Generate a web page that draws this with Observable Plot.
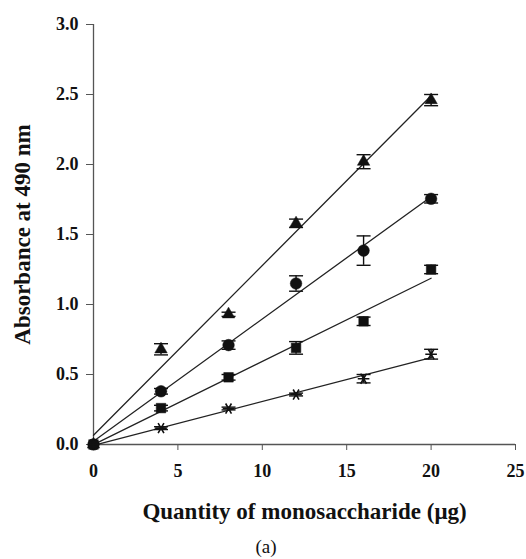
<!DOCTYPE html>
<html>
<head>
<meta charset="utf-8">
<script src="https://cdn.jsdelivr.net/npm/d3@7"></script>
<script src="https://cdn.jsdelivr.net/npm/@observablehq/plot@0.6"></script>
<style>
  html, body { margin: 0; padding: 0; background: #fff; }
  #wrap { position: relative; width: 526px; height: 559px; }
  #cap { position: absolute; top: 536px; left: 266px; transform: translateX(-50%);
         font-family: "Liberation Serif", "Times New Roman", serif; font-size: 19px; color: #111; }
</style>
</head>
<body>
<div id="wrap"><div id="chart"></div><div id="cap">(a)</div></div>
<script>
// Data
const quantity = [0, 4, 8, 12, 16, 20];
const triangleY   = [0, 0.68, 0.93, 1.58, 2.02, 2.46];
const triangleErr = [0, 0.04, 0.015, 0.03, 0.05, 0.04];
const circleY     = [0, 0.38, 0.71, 1.15, 1.385, 1.755];
const circleErr   = [0, 0.02, 0.03, 0.055, 0.105, 0.03];
const squareY     = [0, 0.26, 0.48, 0.69, 0.88, 1.25];
const squareErr   = [0, 0.02, 0.02, 0.045, 0.03, 0.03];
const starY       = [0, 0.117, 0.257, 0.357, 0.47, 0.645];
const starErr     = [0, 0.01, 0.01, 0.01, 0.03, 0.035];
const xTicks = [0, 5, 10, 15, 20, 25];
const yTicks = [0, 0.5, 1.0, 1.5, 2.0, 2.5, 3.0];
const xLabel = "Quantity of monosaccharide (\u03bcg)";
const yLabel = "Absorbance at 490 nm";

const seriesDefs = [
  {name: "triangle", ys: triangleY, errs: triangleErr, symbol: "triangle", r: 4.6, rotate: 0},
  {name: "circle", ys: circleY, errs: circleErr, symbol: "circle", r: 5.8, rotate: 0},
  {name: "square", ys: squareY, errs: squareErr, symbol: "square", r: 5.4, rotate: 0},
  {name: "star", ys: starY, errs: starErr, symbol: "asterisk", r: 5.5, rotate: 90}
];
const rows = seriesDefs.flatMap(s => quantity.map((q, i) => ({
  series: s.name, x: q, y: s.ys[i], lo: s.ys[i] - s.errs[i], hi: s.ys[i] + s.errs[i]
})));
const errRows = rows.filter(d => d.hi > d.lo);

const capSymbol = { draw(ctx) { ctx.moveTo(-7, 0); ctx.lineTo(7, 0); } };
const font = '"Liberation Serif", "Times New Roman", serif';

const markerMarks = seriesDefs.map(s => Plot.dot(rows.filter(d => d.series === s.name), {
  x: "x", y: "y", symbol: s.symbol, r: s.r, rotate: s.rotate,
  fill: s.symbol === "asterisk" ? "none" : "#111",
  stroke: "#111", strokeWidth: s.symbol === "asterisk" ? 1.6 : 0.5
}));

const chart = Plot.plot({
  width: 526, height: 530,
  marginLeft: 93, marginRight: 11, marginTop: 24, marginBottom: 86,
  x: {domain: [0, 25]},
  y: {domain: [0, 3]},
  style: {fontFamily: font, fontWeight: "bold", fontSize: "18px", color: "#111", background: "#fff"},
  marks: [
    Plot.axisX({ticks: xTicks, tickSize: 6, tickPadding: 14, label: null, stroke: "#555", fill: "#111", fontSize: 18, fontWeight: "bold", tickFormat: d3.format("d")}),
    Plot.axisY({ticks: yTicks, tickSize: 7, tickPadding: 8, label: null, stroke: "#555", fill: "#111", fontSize: 18, fontWeight: "bold", tickFormat: d3.format(".1f")}),
    Plot.ruleY([0], {x1: 0, x2: 25, stroke: "#555", strokeWidth: 1.3}),
    Plot.ruleX([0], {y1: 0, y2: 3, stroke: "#555", strokeWidth: 1.3}),
    Plot.linearRegressionY(rows, {x: "x", y: "y", z: "series", stroke: "#222", strokeWidth: 1.3, ci: 0}),
    Plot.ruleX(errRows, {x: "x", y1: "lo", y2: "hi", stroke: "#111", strokeWidth: 1.4}),
    Plot.dot(errRows, {x: "x", y: "lo", symbol: capSymbol, r: 7, fill: "none", stroke: "#111", strokeWidth: 1.4}),
    Plot.dot(errRows, {x: "x", y: "hi", symbol: capSymbol, r: 7, fill: "none", stroke: "#111", strokeWidth: 1.4}),
    ...markerMarks,
    Plot.text([xLabel], {frameAnchor: "bottom", dy: 67, textAnchor: "middle", lineAnchor: "middle", fontSize: 23, fontWeight: "bold", fill: "#111"}),
    Plot.text([yLabel], {frameAnchor: "left", dx: -71, rotate: -90, textAnchor: "middle", lineAnchor: "middle", fontSize: 23, fontWeight: "bold", fill: "#111"})
  ]
});
document.getElementById("chart").appendChild(chart);
</script>
</body>
</html>
